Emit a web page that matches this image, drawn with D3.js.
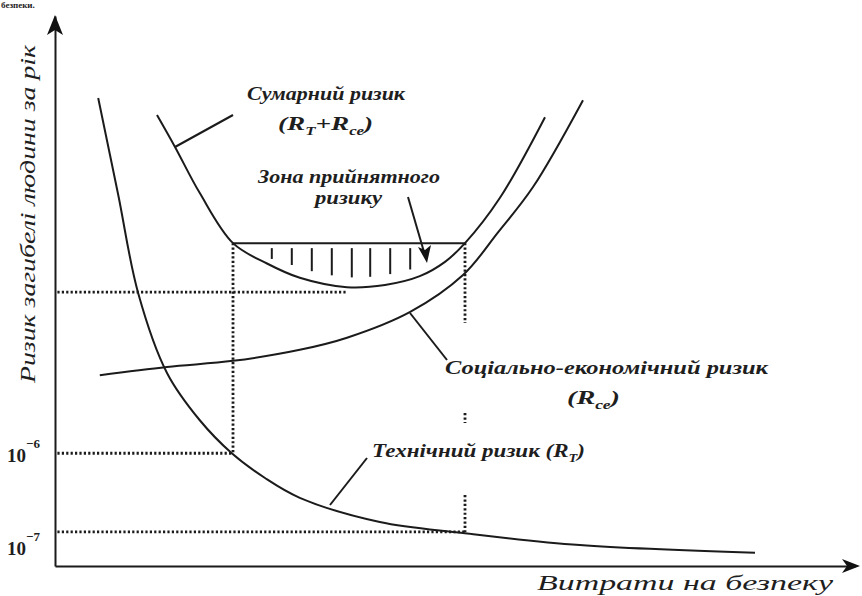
<!DOCTYPE html>
<meta charset="utf-8">
<style>
body { margin: 0; background: #fff; }
.curve { fill: none; stroke: #1b1b1b; stroke-width: 2px; }
.dots { fill: none; stroke: #1b1b1b; stroke-width: 2.8px; stroke-dasharray: 2.2,2.2; }
.lbl { font-family: "Liberation Serif", "DejaVu Serif", serif; font-style: italic; font-weight: bold; fill: #1e1e1e; }
</style>
<body>
<script src="https://d3js.org/d3.v7.min.js"></script>
<script>

// curves: [витрати, ризик] in arbitrary units 0..100
var techRisk = [[5.4,85.1],[7.9,67.5],[10.4,49.6],[14,35.1],[18.1,26.5],[22.1,20.5],[26.25,16],[30.6,12.4],[40.6,8],[51,6],[65.6,3.8],[87.5,2.4]];
var socialRisk = [[5.6,34.7],[14,36.2],[22.25,37.3],[30.6,39.3],[36.5,41.5],[44.4,46.2],[51,52.9],[55.4,60.7],[59.75,68.9],[66,84.7]];
var totalRisk = [[12.75,82],[15,76.2],[18.1,67.8],[22.25,58.7],[26.5,55],[30.6,52.4],[36.5,50.7],[41.25,51.1],[45.6,52.7],[48.75,55.3],[51.25,58.7],[55.6,66.9],[61.25,81.6]];

// acceptable zone
var zoneX = [22.25, 51.25];
var zoneLevel = 58.7;
var hatchX = [27.1, 29.6, 32.1, 34.6, 37.1, 39.4, 41.9, 44.4];

// reference levels
var levelLabels = ["10", "10"];
var levelExps = ["\u22126", "\u22127"];
var levelY = [20.5, 6.2];
var levelX = [22.25, 51.25];
var minLevelY = 49.8, minLevelX = 36.6;
var rightDrop = [[58.7, 44.2], [27.8, 26], [12.9, 6.2]];

var width = 862, height = 596;
var x = d3.scaleLinear().domain([0, 100]).range([55, 855]);
var y = d3.scaleLinear().domain([0, 100]).range([566, 16]);

var svg = d3.select("body").append("svg")
    .attr("width", width)
    .attr("height", height);

// axes, no ticks
svg.append("g")
    .attr("transform", "translate(0," + y(0) + ")")
    .call(d3.axisBottom(x).tickValues([]).tickSizeOuter(0))
    .select(".domain").attr("stroke", "#1b1b1b").attr("stroke-width", 2);
svg.append("g")
    .attr("transform", "translate(" + x(0) + ",0)")
    .call(d3.axisLeft(y).tickValues([]).tickSizeOuter(0))
    .select(".domain").attr("stroke", "#1b1b1b").attr("stroke-width", 2);

// arrow heads
var ax = x(0), ay = y(100) - 1;
svg.append("path")
    .attr("d", "M" + ax + "," + ay + " L" + (ax - 8) + "," + (ay + 20) + " L" + ax + "," + (ay + 15) + " L" + (ax + 8) + "," + (ay + 20) + " Z")
    .attr("fill", "#111");
var bx = x(100) + 5, by = y(0);
svg.append("path")
    .attr("d", "M" + bx + "," + by + " L" + (bx - 18) + "," + (by - 7) + " L" + (bx - 13) + "," + by + " L" + (bx - 18) + "," + (by + 7) + " Z")
    .attr("fill", "#111");

// dotted reference lines
function dline(x1, y1, x2, y2) {
  svg.append("line").attr("class", "dots")
    .attr("x1", x(x1)).attr("y1", y(y1)).attr("x2", x(x2)).attr("y2", y(y2));
}
dline(0.3, minLevelY, minLevelX, minLevelY);
levelY.forEach(function(v, i) { dline(0.3, v, levelX[i], v); });
dline(zoneX[0], zoneLevel, zoneX[0], levelY[0]);
rightDrop.forEach(function(s) { dline(zoneX[1], s[0], zoneX[1], s[1]); });

// curves
var line = d3.line()
    .x(function(d) { return x(d[0]); })
    .y(function(d) { return y(d[1]); })
    .curve(d3.curveCatmullRom.alpha(0.5));

svg.append("path").datum(techRisk).attr("class", "curve").attr("d", line);
svg.append("path").datum(socialRisk).attr("class", "curve").attr("d", line);
var total = svg.append("path").datum(totalRisk).attr("class", "curve").attr("d", line);

// zone top line
svg.append("line").attr("class", "curve")
    .attr("x1", x(zoneX[0])).attr("x2", x(zoneX[1]))
    .attr("y1", y(zoneLevel)).attr("y2", y(zoneLevel));

// hatch down to the summary curve
function yOnPath(node, px) {
  var lo = 0, hi = node.getTotalLength();
  for (var k = 0; k < 30; k++) {
    var mid = (lo + hi) / 2;
    if (node.getPointAtLength(mid).x < px) lo = mid; else hi = mid;
  }
  return node.getPointAtLength(lo).y;
}
hatchX.forEach(function(h, i) {
  var px = x(h);
  svg.append("line").attr("class", "curve")
    .attr("x1", px).attr("x2", px)
    .attr("y1", y(zoneLevel) + 5)
    .attr("y2", yOnPath(total.node(), px) - (i === 0 ? 7 : 10));
});

// leader lines
function leader(x1, y1, x2, y2) {
  svg.append("line").attr("x1", x1).attr("y1", y1).attr("x2", x2).attr("y2", y2)
    .attr("stroke", "#1b1b1b").attr("stroke-width", 2);
}
leader(175, 147, 233, 115);
leader(410, 313, 447, 360);
leader(367, 458, 330, 505);
leader(408, 197, 424, 252);
svg.append("path")
    .attr("d", "M427,263 L418,247 L425,250 L431,245 Z")
    .attr("fill", "#111");

// labels
function label(parts, px, py, size, len) {
  var t = svg.append("text").attr("class", "lbl")
    .attr("x", px).attr("y", py)
    .style("font-size", size + "px");
  parts.forEach(function(p) {
    var s = t.append("tspan").text(p[0]);
    if (p[1] === "sub") s.attr("dy", 5).style("font-size", (size * 0.62) + "px");
    if (p[1] === "up") s.attr("dy", -5);
  });
  if (len) t.attr("textLength", len).attr("lengthAdjust", "spacingAndGlyphs");
  return t;
}
label([["Сумарний ризик"]], 247, 100, 19, 158);
label([["(R"], ["T", "sub"], ["+R", "up"], ["се", "sub"], [")", "up"]], 278, 130, 19, 95);
label([["Зона прийнятного"]], 258, 183, 18, 182);
label([["ризику"]], 315, 204, 18, 67);
label([["Соціально-економічний ризик"]], 445, 374, 19, 323);
label([["(R"], ["се", "sub"], [")", "up"]], 567, 404, 19, 53);
label([["Технічний ризик (R"], ["T", "sub"], [")", "up"]], 372, 457, 19, 213);

// level tick labels
levelY.forEach(function(v, i) {
  var t = svg.append("text").attr("class", "lbl").style("font-style", "normal")
    .attr("x", 7).attr("y", y(v) + (i === 0 ? 9 : 23)).style("font-size", "19px");
  t.append("tspan").text(levelLabels[i]);
  t.append("tspan").attr("dy", -14).style("font-size", "13px").text(levelExps[i]);
});

// axis titles
svg.append("text").attr("class", "lbl").style("font-weight", "normal")
    .attr("x", 537).attr("y", 590).style("font-size", "22px")
    .attr("textLength", 296).attr("lengthAdjust", "spacingAndGlyphs")
    .text("Витрати на безпеку");
svg.append("text").attr("class", "lbl").style("font-weight", "normal")
    .attr("transform", "translate(35,383) rotate(-90)")
    .style("font-size", "22px")
    .attr("textLength", 338).attr("lengthAdjust", "spacingAndGlyphs")
    .text("Ризик загибелі людини за рік");

// line of text left over at the very top of the scan
svg.append("text").attr("class", "lbl").style("font-style", "normal")
    .attr("x", 1).attr("y", 8).style("font-size", "9px")
    .attr("fill", "#444")
    .text("безпеки.");

</script>
</body>
